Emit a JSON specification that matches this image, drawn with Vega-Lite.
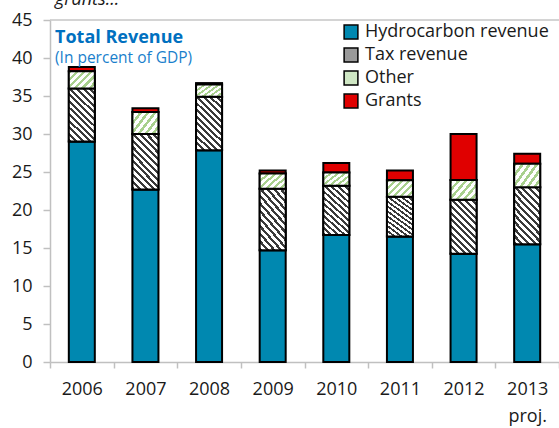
{
  "$schema": "https://vega.github.io/schema/vega-lite/v6.json",
  "width": 509,
  "height": 342,
  "autosize": {"type": "none"},
  "padding": {"left": 50, "top": 20, "right": 0, "bottom": 66},
  "background": "white",
  "config": {
    "font": "Open Sans",
    "view": {"stroke": null},
    "axisY": {
      "title": null, "grid": false, "tickCount": 9,
      "labelFontSize": 18, "labelColor": "#1a1a1a", "labelPadding": 11, "labelOverlap": false,
      "labelFlush": false, "labelBound": false,
      "tickSize": 7, "tickColor": "#c0c0c0", "tickWidth": 1.5,
      "domainColor": "#c0c0c0", "domainWidth": 1.5
    },
    "axisX": {
      "title": null, "labelAngle": 0, "labelFontSize": 18, "labelColor": "#1a1a1a",
      "labelPadding": 12, "labelBaseline": "top", "labelLineHeight": 27,
      "tickBand": "extent", "tickSize": 6, "tickColor": "#c0c0c0", "tickWidth": 1.5,
      "domainColor": "#c0c0c0", "domainWidth": 1.5, "labelOverlap": false
    }
  },
  "layer": [
    {
      "data": {
        "values": [
          {"year": "2006", "cat": "Hydrocarbon revenue", "k": 1, "value": 29.0},
          {"year": "2006", "cat": "Tax revenue", "k": 2, "value": 7.0},
          {"year": "2006", "cat": "Other", "k": 3, "value": 2.25},
          {"year": "2006", "cat": "Grants", "k": 4, "value": 0.55},
          {"year": "2007", "cat": "Hydrocarbon revenue", "k": 1, "value": 22.7},
          {"year": "2007", "cat": "Tax revenue", "k": 2, "value": 7.3},
          {"year": "2007", "cat": "Other", "k": 3, "value": 2.9},
          {"year": "2007", "cat": "Grants", "k": 4, "value": 0.5},
          {"year": "2008", "cat": "Hydrocarbon revenue", "k": 1, "value": 27.85},
          {"year": "2008", "cat": "Tax revenue", "k": 2, "value": 7.05},
          {"year": "2008", "cat": "Other", "k": 3, "value": 1.6},
          {"year": "2008", "cat": "Grants", "k": 4, "value": 0.2},
          {"year": "2009", "cat": "Hydrocarbon revenue", "k": 1, "value": 14.7},
          {"year": "2009", "cat": "Tax revenue", "k": 2, "value": 8.1},
          {"year": "2009", "cat": "Other", "k": 3, "value": 2.0},
          {"year": "2009", "cat": "Grants", "k": 4, "value": 0.4},
          {"year": "2010", "cat": "Hydrocarbon revenue", "k": 1, "value": 16.7},
          {"year": "2010", "cat": "Tax revenue", "k": 2, "value": 6.5},
          {"year": "2010", "cat": "Other", "k": 3, "value": 1.75},
          {"year": "2010", "cat": "Grants", "k": 4, "value": 1.25},
          {"year": "2011", "cat": "Hydrocarbon revenue", "k": 1, "value": 16.5},
          {"year": "2011", "cat": "Tax revenue", "k": 2, "value": 5.25},
          {"year": "2011", "cat": "Other", "k": 3, "value": 2.15},
          {"year": "2011", "cat": "Grants", "k": 4, "value": 1.3},
          {"year": "2012", "cat": "Hydrocarbon revenue", "k": 1, "value": 14.25},
          {"year": "2012", "cat": "Tax revenue", "k": 2, "value": 7.1},
          {"year": "2012", "cat": "Other", "k": 3, "value": 2.6},
          {"year": "2012", "cat": "Grants", "k": 4, "value": 6.05},
          {"year": "2013", "cat": "Hydrocarbon revenue", "k": 1, "value": 15.5},
          {"year": "2013", "cat": "Tax revenue", "k": 2, "value": 7.5},
          {"year": "2013", "cat": "Other", "k": 3, "value": 3.1},
          {"year": "2013", "cat": "Grants", "k": 4, "value": 1.3}
        ]
      },
      "transform": [
        {"stack": "value", "groupby": ["year"], "sort": [{"field": "k", "order": "ascending"}], "as": ["v0", "v1"]}
      ],
      "layer": [
        {
          "mark": {"type": "bar", "width": 26, "stroke": "black", "strokeWidth": 2},
          "encoding": {
            "x": {
              "field": "year", "type": "ordinal",
              "scale": {"paddingInner": 0, "paddingOuter": 0},
              "axis": {"labelExpr": "datum.value == '2013' ? ['2013', 'proj.'] : datum.value"}
            },
            "y": {
              "field": "v1", "type": "quantitative", "stack": null,
              "scale": {"domain": [0, 45], "nice": false}
            },
            "y2": {"field": "v0"},
            "color": {
              "field": "cat", "type": "nominal",
              "scale": {
                "domain": ["Hydrocarbon revenue", "Tax revenue", "Other", "Grants"],
                "range": ["#0088B0", "#9a9a9a", "#cfe7c4", "#E00000"]
              },
              "legend": {
                "title": null, "orient": "none", "legendX": 292, "legendY": 3,
                "direction": "vertical", "symbolType": "square", "symbolSize": 190,
                "symbolStrokeColor": "black", "symbolStrokeWidth": 1.5, "symbolOpacity": 1,
                "labelFontSize": 18, "labelColor": "#1a1a1a", "labelOffset": 5, "rowPadding": 3,
                "labelLimit": 400
              }
            }
          }
        },
        {
          "transform": [{"filter": {"field": "cat", "equal": "Tax revenue"}}],
          "mark": {
            "type": "bar", "width": 26, "stroke": "black", "strokeWidth": 2,
            "fill": {
              "gradient": "linear", "x1": 0, "y1": 1, "x2": 0.577, "y2": -0.203,
              "stops": [
                {"offset": 0, "color": "#3a3a3a"}, {"offset": 0.0375, "color": "#3a3a3a"}, {"offset": 0.0375, "color": "#ffffff"}, {"offset": 0.08333, "color": "#ffffff"},
                {"offset": 0.08333, "color": "#3a3a3a"}, {"offset": 0.12083, "color": "#3a3a3a"}, {"offset": 0.12083, "color": "#ffffff"}, {"offset": 0.16667, "color": "#ffffff"},
                {"offset": 0.16667, "color": "#3a3a3a"}, {"offset": 0.20417, "color": "#3a3a3a"}, {"offset": 0.20417, "color": "#ffffff"}, {"offset": 0.25, "color": "#ffffff"},
                {"offset": 0.25, "color": "#3a3a3a"}, {"offset": 0.2875, "color": "#3a3a3a"}, {"offset": 0.2875, "color": "#ffffff"}, {"offset": 0.33333, "color": "#ffffff"},
                {"offset": 0.33333, "color": "#3a3a3a"}, {"offset": 0.37083, "color": "#3a3a3a"}, {"offset": 0.37083, "color": "#ffffff"}, {"offset": 0.41667, "color": "#ffffff"},
                {"offset": 0.41667, "color": "#3a3a3a"}, {"offset": 0.45417, "color": "#3a3a3a"}, {"offset": 0.45417, "color": "#ffffff"}, {"offset": 0.5, "color": "#ffffff"},
                {"offset": 0.5, "color": "#3a3a3a"}, {"offset": 0.5375, "color": "#3a3a3a"}, {"offset": 0.5375, "color": "#ffffff"}, {"offset": 0.58333, "color": "#ffffff"},
                {"offset": 0.58333, "color": "#3a3a3a"}, {"offset": 0.62083, "color": "#3a3a3a"}, {"offset": 0.62083, "color": "#ffffff"}, {"offset": 0.66667, "color": "#ffffff"},
                {"offset": 0.66667, "color": "#3a3a3a"}, {"offset": 0.70417, "color": "#3a3a3a"}, {"offset": 0.70417, "color": "#ffffff"}, {"offset": 0.75, "color": "#ffffff"},
                {"offset": 0.75, "color": "#3a3a3a"}, {"offset": 0.7875, "color": "#3a3a3a"}, {"offset": 0.7875, "color": "#ffffff"}, {"offset": 0.83333, "color": "#ffffff"},
                {"offset": 0.83333, "color": "#3a3a3a"}, {"offset": 0.87083, "color": "#3a3a3a"}, {"offset": 0.87083, "color": "#ffffff"}, {"offset": 0.91667, "color": "#ffffff"},
                {"offset": 0.91667, "color": "#3a3a3a"}, {"offset": 0.95417, "color": "#3a3a3a"}, {"offset": 0.95417, "color": "#ffffff"}, {"offset": 1, "color": "#ffffff"}
              ]
            }
          },
          "encoding": {
            "x": {"field": "year", "type": "ordinal"},
            "y": {"field": "v1", "type": "quantitative", "stack": null},
            "y2": {"field": "v0"}
          }
        },
        {
          "transform": [{"filter": {"field": "cat", "equal": "Other"}}],
          "mark": {
            "type": "bar", "width": 26, "stroke": "black", "strokeWidth": 2,
            "fill": {
              "gradient": "linear", "x1": 0, "y1": 0, "x2": 1.158, "y2": 0.757,
              "stops": [
                {"offset": 0, "color": "#a8d08d"}, {"offset": 0.075, "color": "#a8d08d"}, {"offset": 0.075, "color": "#ffffff"}, {"offset": 0.16667, "color": "#ffffff"},
                {"offset": 0.16667, "color": "#a8d08d"}, {"offset": 0.24167, "color": "#a8d08d"}, {"offset": 0.24167, "color": "#ffffff"}, {"offset": 0.33333, "color": "#ffffff"},
                {"offset": 0.33333, "color": "#a8d08d"}, {"offset": 0.40833, "color": "#a8d08d"}, {"offset": 0.40833, "color": "#ffffff"}, {"offset": 0.5, "color": "#ffffff"},
                {"offset": 0.5, "color": "#a8d08d"}, {"offset": 0.575, "color": "#a8d08d"}, {"offset": 0.575, "color": "#ffffff"}, {"offset": 0.66667, "color": "#ffffff"},
                {"offset": 0.66667, "color": "#a8d08d"}, {"offset": 0.74167, "color": "#a8d08d"}, {"offset": 0.74167, "color": "#ffffff"}, {"offset": 0.83333, "color": "#ffffff"},
                {"offset": 0.83333, "color": "#a8d08d"}, {"offset": 0.90833, "color": "#a8d08d"}, {"offset": 0.90833, "color": "#ffffff"}, {"offset": 1, "color": "#ffffff"}
              ]
            }
          },
          "encoding": {
            "x": {"field": "year", "type": "ordinal"},
            "y": {"field": "v1", "type": "quantitative", "stack": null},
            "y2": {"field": "v0"}
          }
        }
      ]
    },
    {
      "data": {"values": [{"t": "top"}]},
      "mark": {"type": "rule", "color": "#c6c6c6", "strokeWidth": 1.5},
      "encoding": {
        "y": {"datum": 45, "type": "quantitative"}
      }
    },
    {
      "data": {"values": [{"t": "Total Revenue"}]},
      "mark": {"type": "text", "align": "left", "baseline": "alphabetic", "dx": 5, "fontSize": 18, "fontWeight": "bold", "color": "#0070C0"},
      "encoding": {
        "x": {"datum": "2006", "type": "ordinal", "bandPosition": 0},
        "y": {"datum": 42.0, "type": "quantitative"},
        "text": {"field": "t"}
      }
    },
    {
      "data": {"values": [{"t": "(In percent  of GDP)"}]},
      "mark": {"type": "text", "align": "left", "baseline": "alphabetic", "dx": 5, "fontSize": 15.5, "color": "#1a7fcc"},
      "encoding": {
        "x": {"datum": "2006", "type": "ordinal", "bandPosition": 0},
        "y": {"datum": 39.3, "type": "quantitative"},
        "text": {"field": "t"}
      }
    },
    {
      "data": {"values": [{"t": "grants..."}]},
      "mark": {"type": "text", "align": "left", "baseline": "alphabetic", "dx": 5, "fontSize": 18, "fontStyle": "italic", "color": "#1a1a1a"},
      "encoding": {
        "x": {"datum": "2006", "type": "ordinal", "bandPosition": 0},
        "y": {"datum": 47.0, "type": "quantitative"},
        "text": {"field": "t"}
      }
    }
  ]
}
